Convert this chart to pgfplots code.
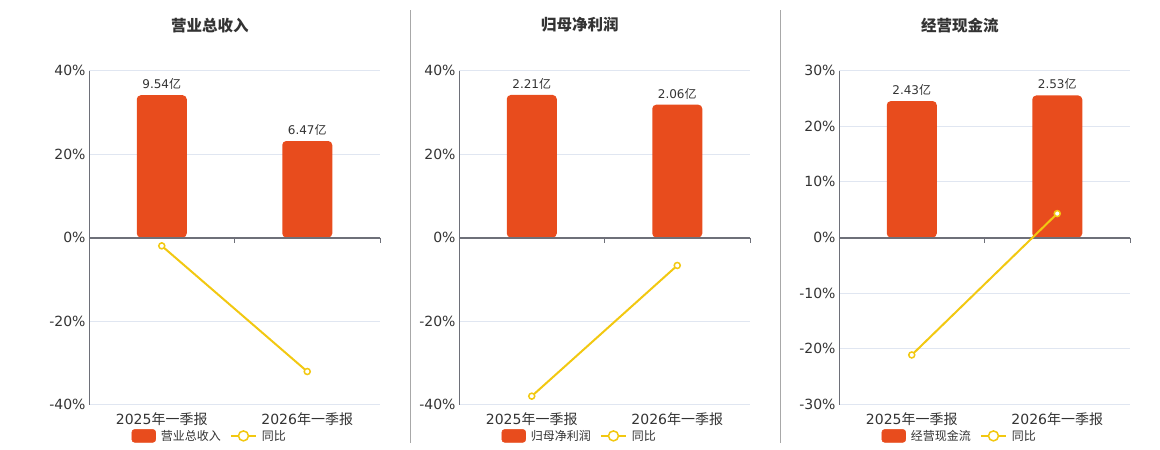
\documentclass[border=0pt]{standalone}
\usepackage{pgfplots}
\pgfplotsset{compat=1.18}
\usepackage{fontspec}
\setmainfont{DejaVu Sans}
\newfontfamily\cjk{Noto Sans CJK SC}
\definecolor{barc}{RGB}{232,76,29}
\definecolor{linec}{RGB}{242,200,17}
\definecolor{gridc}{HTML}{E0E6F1}
\definecolor{axc}{HTML}{6E7079}
\definecolor{txt}{HTML}{333333}
\definecolor{sepc}{HTML}{A8A8A8}
\pgfplotsset{
  /pgf/number format/assume math mode=true,
  pbase/.style={scale only axis, width=291bp, height=334bp,
    xmin=-0.5, xmax=1.5, anchor=south west},
  pct/.style={pbase,
    axis y line*=left, axis x line*=bottom,
    x axis line style={draw=none},
    y axis line style={draw=axc, line width=1bp, -},
    ymajorgrids, grid style={draw=gridc, line width=1bp},
    xtick={0,1},
    xticklabels={{2025{\cjk 年一季报}},{2026{\cjk 年一季报}}},
    major tick length=0pt,
    tick label style={font=\fontsize{14bp}{16bp}\selectfont, text=txt},
    xticklabel style={yshift=-5bp},
    title style={at={(0.415,1.118)}, anchor=center,
      font=\fontsize{15.5bp}{18bp}\selectfont\bfseries, text=txt},
  },
  bars/.style={pbase, hide axis, ybar, bar width=50bp,
    nodes near coords={\pgfmathprintnumber[fixed,fixed zerofill,precision=2]{\pgfplotspointmeta}{\cjk 亿}},
    every node near coord/.append style={font=\fontsize{12bp}{14bp}\selectfont, text=txt, inner sep=3bp, yshift=2.5bp},
  },
  lines/.style={pbase, hide axis, ymin=-40, ymax=40, clip=false,
    legend style={at={(0.415,-0.094)}, anchor=center, draw=none, fill=none,
      legend columns=2, font=\fontsize{12bp}{14bp}\selectfont, text=txt,
      /tikz/every odd column/.append style={column sep=3bp},
      /tikz/every even column/.append style={column sep=7bp}},
  },
  yoy/.style={linec, line width=2bp, mark=*, mark size=3bp,
    mark options={fill=white, draw=linec, line width=1.5bp},
    legend image code/.code={\draw[mark repeat=2,mark phase=2,##1,mark size=5bp] plot coordinates {(0bp,0bp)(12.5bp,0bp)(25bp,0bp)};}},
  barleg/.style={legend image code/.code={\fill[barc, rounded corners=3bp] (0bp,-6.5bp) rectangle (24bp,6.5bp);}},
}
\begin{document}
\begin{tikzpicture}
\path[use as bounding box] (0,0) rectangle (1160bp,450bp);
\draw[sepc, line width=1bp] (410.5bp,7bp) -- (410.5bp,440bp);
\draw[sepc, line width=1bp] (780.5bp,7bp) -- (780.5bp,440bp);

% ---------- Panel 1 ----------
\begin{axis}[pct, at={(89bp,45.5bp)}, ymin=-40, ymax=40,
  ytick={-40,-20,0,20,40}, yticklabels={-40\%,-20\%,0\%,20\%,40\%},
  title={\cjk\bfseries 营业总收入}]
\addplot[draw=none, forget plot] coordinates {(0,0)};
\end{axis}
\begin{axis}[bars, at={(89bp,45.5bp)}, ymin=-11.2, ymax=11.2]
\addplot[fill=barc, draw=none, rounded corners=4bp] coordinates {(0,9.54) (1,6.47)};
\end{axis}
\begin{axis}[lines, at={(89bp,45.5bp)}]
\draw[axc, line width=2bp] (axis cs:-0.5,0) -- (axis cs:1.5,0);
\draw[axc, line width=1bp] (axis cs:0.5,0) -- ([yshift=-5bp]axis cs:0.5,0);
\draw[axc, line width=1bp] (axis cs:1.5,0) -- ([yshift=-5bp]axis cs:1.5,0);
\addlegendimage{barleg}
\addplot[yoy] coordinates {(0,-2.0) (1,-32.1)};
\legend{{\cjk 营业总收入},{\cjk 同比}}
\end{axis}

% ---------- Panel 2 ----------
\begin{axis}[pct, at={(459bp,45.5bp)}, ymin=-40, ymax=40,
  ytick={-40,-20,0,20,40}, yticklabels={-40\%,-20\%,0\%,20\%,40\%},
  title={\cjk\bfseries 归母净利润}]
\addplot[draw=none, forget plot] coordinates {(0,0)};
\end{axis}
\begin{axis}[bars, at={(459bp,45.5bp)}, ymin=-2.59, ymax=2.59]
\addplot[fill=barc, draw=none, rounded corners=4bp] coordinates {(0,2.21) (1,2.06)};
\end{axis}
\begin{axis}[lines, at={(459bp,45.5bp)}]
\draw[axc, line width=2bp] (axis cs:-0.5,0) -- (axis cs:1.5,0);
\draw[axc, line width=1bp] (axis cs:0.5,0) -- ([yshift=-5bp]axis cs:0.5,0);
\draw[axc, line width=1bp] (axis cs:1.5,0) -- ([yshift=-5bp]axis cs:1.5,0);
\addlegendimage{barleg}
\addplot[yoy] coordinates {(0,-38.0) (1,-6.7)};
\legend{{\cjk 归母净利润},{\cjk 同比}}
\end{axis}

% ---------- Panel 3 ----------
\begin{axis}[pct, at={(839bp,45.5bp)}, ymin=-30, ymax=30,
  ytick={-30,-20,-10,0,10,20,30}, yticklabels={-30\%,-20\%,-10\%,0\%,10\%,20\%,30\%},
  title={\cjk\bfseries 经营现金流}]
\addplot[draw=none, forget plot] coordinates {(0,0)};
\end{axis}
\begin{axis}[bars, at={(839bp,45.5bp)}, ymin=-2.975, ymax=2.975]
\addplot[fill=barc, draw=none, rounded corners=4bp] coordinates {(0,2.43) (1,2.53)};
\end{axis}
\begin{axis}[lines, at={(839bp,45.5bp)}, ymin=-30, ymax=30]
\draw[axc, line width=2bp] (axis cs:-0.5,0) -- (axis cs:1.5,0);
\draw[axc, line width=1bp] (axis cs:0.5,0) -- ([yshift=-5bp]axis cs:0.5,0);
\draw[axc, line width=1bp] (axis cs:1.5,0) -- ([yshift=-5bp]axis cs:1.5,0);
\addlegendimage{barleg}
\addplot[yoy] coordinates {(0,-21.1) (1,4.3)};
\legend{{\cjk 经营现金流},{\cjk 同比}}
\end{axis}
\end{tikzpicture}
\end{document}
